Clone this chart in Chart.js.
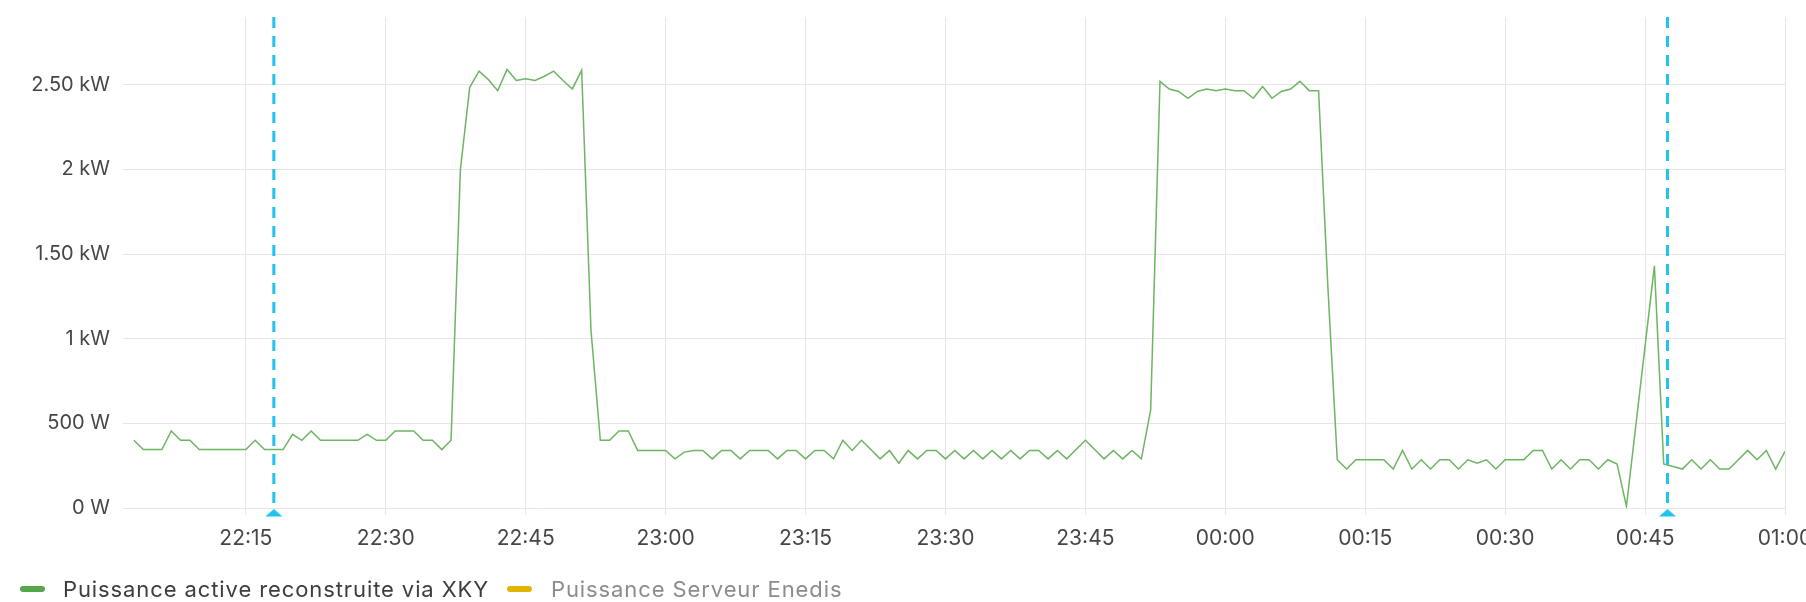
<!DOCTYPE html>
<html>
<head>
<meta charset="utf-8">
<script src="https://cdn.jsdelivr.net/npm/chart.js@4"></script>
<style>
  html, body { margin: 0; padding: 0; background: #fff; }
  #wrap { position: relative; width: 1806px; height: 602px; overflow: hidden; }
  #legend { position: absolute; left: 0; top: 577px; height: 24px; font-family: Inter, "Noto Sans", sans-serif; font-size: 22px; letter-spacing: 0.9px; }
  .item { position: absolute; top: 0; height: 24px; line-height: 24px; white-space: nowrap; }
  .swatch { position: absolute; top: 9px; height: 6px; border-radius: 3px; }
</style>
</head>
<body>
<div id="wrap">
  <canvas id="chart" width="1806" height="602"></canvas>
  <div id="legend"></div>
</div>
<script>
// one sample per minute, first sample at 22:03 (minutes counted from 22:00)
const startMinute = 3;
const power = [
  400, 345, 345, 345, 455, 400, 400, 345, 345, 345, 345, 345, 345, 400, 345, 345, 345, 435, 400, 455,
  400, 400, 400, 400, 400, 435, 400, 400, 455, 455, 455, 400, 400, 345, 400, 2000, 2485, 2580, 2530, 2465,
  2590, 2525, 2535, 2525, 2550, 2580, 2525, 2475, 2585, 1050, 400, 400, 455, 455, 340, 340, 340, 340, 290, 330,
  340, 340, 290, 340, 340, 290, 340, 340, 340, 290, 340, 340, 290, 340, 340, 290, 400, 340, 400, 345,
  290, 340, 265, 340, 290, 340, 340, 290, 340, 290, 340, 290, 340, 290, 340, 290, 340, 340, 290, 340,
  290, 345, 400, 345, 290, 340, 290, 340, 290, 580, 2520, 2475, 2460, 2420, 2460, 2475, 2465, 2475, 2465, 2465,
  2420, 2490, 2420, 2460, 2475, 2520, 2465, 2465, 1300, 285, 230, 285, 285, 285, 285, 230, 340, 230, 285, 230,
  285, 285, 230, 285, 265, 285, 230, 285, 285, 285, 340, 340, 230, 285, 230, 285, 285, 230, 285, 260,
  10, null, null, 1430, 260, 245, 230, 285, 230, 285, 230, 230, 285, 340, 285, 340, 230, 335
];
const annotationMinutes = [18.0, 167.4];
const xTickMinutes = [15, 30, 45, 60, 75, 90, 105, 120, 135, 150, 165, 180];
const xTickLabels = ["22:15", "22:30", "22:45", "23:00", "23:15", "23:30", "23:45", "00:00", "00:15", "00:30", "00:45", "01:00"];
const yTickValues = [0, 500, 1000, 1500, 2000, 2500];
const yTickLabels = ["0 W", "500 W", "1 kW", "1.50 kW", "2 kW", "2.50 kW"];
const seriesLabels = ["Puissance active reconstruite via XKY", "Puissance Serveur Enedis"];
const seriesColors = ["#56A64B", "#E0B400"];
const seriesTextColors = ["#3d3d3d", "#8c8c8c"];

const X_MIN = 1.83, X_MAX = 180, Y_MAX = 2900;
const LINE_GREEN = "#6DB562";
const ANNO_BLUE = "#1FC3EE";

// small annotation marker under each dashed line
function triangleMarker() {
  const c = document.createElement("canvas");
  c.width = 18; c.height = 18;
  const g = c.getContext("2d");
  g.fillStyle = ANNO_BLUE;
  g.beginPath();
  g.moveTo(9, 10);
  g.lineTo(17.5, 17.5);
  g.lineTo(0.5, 17.5);
  g.closePath();
  g.fill();
  return c;
}
const marker = triangleMarker();

const annoSets = annotationMinutes.map(m => ({
  label: "annotation",
  data: [{ x: m, y: Y_MAX }, { x: m, y: 0 }],
  borderColor: ANNO_BLUE,
  backgroundColor: ANNO_BLUE,
  borderWidth: 3,
  borderDash: [11, 8],
  pointRadius: [0, 9],
  pointStyle: marker,
  clip: false,
  order: 0
}));

Chart.defaults.font.family = "Inter, 'Noto Sans', sans-serif";
Chart.defaults.font.size = 20;
Chart.defaults.color = "#464646";

const GRID = "#e6e6e6";

new Chart(document.getElementById("chart"), {
  type: "line",
  data: {
    datasets: [
      ...annoSets,
      {
        label: seriesLabels[0],
        data: power.map((v, i) => ({ x: startMinute + i, y: v })),
        borderColor: LINE_GREEN,
        borderWidth: 1.5,
        pointRadius: 0,
        tension: 0,
        spanGaps: true,
        order: 1
      },
      {
        label: seriesLabels[1],
        data: [],
        borderColor: seriesColors[1],
        pointRadius: 0,
        order: 2
      }
    ]
  },
  options: {
    responsive: false,
    animation: false,
    layout: { padding: { top: 17, right: 21, left: 0, bottom: 0 } },
    plugins: { legend: { display: false }, tooltip: { enabled: false } },
    scales: {
      x: {
        type: "linear",
        min: X_MIN,
        max: X_MAX,
        afterBuildTicks: axis => { axis.ticks = xTickMinutes.map(v => ({ value: v })); },
        afterFit: axis => { axis.height = 94; axis.paddingLeft = 0; axis.paddingRight = 0; },
        grid: { color: GRID, lineWidth: 1, drawTicks: true, tickLength: 7 },
        border: { display: false },
        ticks: {
          autoSkip: false,
          maxRotation: 0,
          padding: 11,
          font: { size: 21 },
          color: "#464646",
          callback: (v, i) => xTickLabels[i]
        }
      },
      y: {
        min: 0,
        max: Y_MAX,
        afterBuildTicks: axis => { axis.ticks = yTickValues.map(v => ({ value: v })); },
        afterFit: axis => { axis.width = 123; axis.paddingTop = 0; axis.paddingBottom = 0; },
        grid: { color: GRID, lineWidth: 1, drawTicks: false },
        border: { display: false },
        ticks: {
          padding: 13,
          color: "#464646",
          callback: (v, i) => yTickLabels[i]
        }
      }
    }
  }
});

// legend below the plot
const legendEl = document.getElementById("legend");
const legendPos = [{ sw: 20, tx: 63 }, { sw: 507, tx: 551 }];
seriesLabels.forEach((name, i) => {
  const sw = document.createElement("div");
  sw.className = "swatch";
  sw.style.left = legendPos[i].sw + "px";
  sw.style.width = "25px";
  sw.style.background = seriesColors[i];
  legendEl.appendChild(sw);
  const t = document.createElement("div");
  t.className = "item";
  t.style.left = legendPos[i].tx + "px";
  t.style.color = seriesTextColors[i];
  t.textContent = name;
  legendEl.appendChild(t);
});
</script>
</body>
</html>
